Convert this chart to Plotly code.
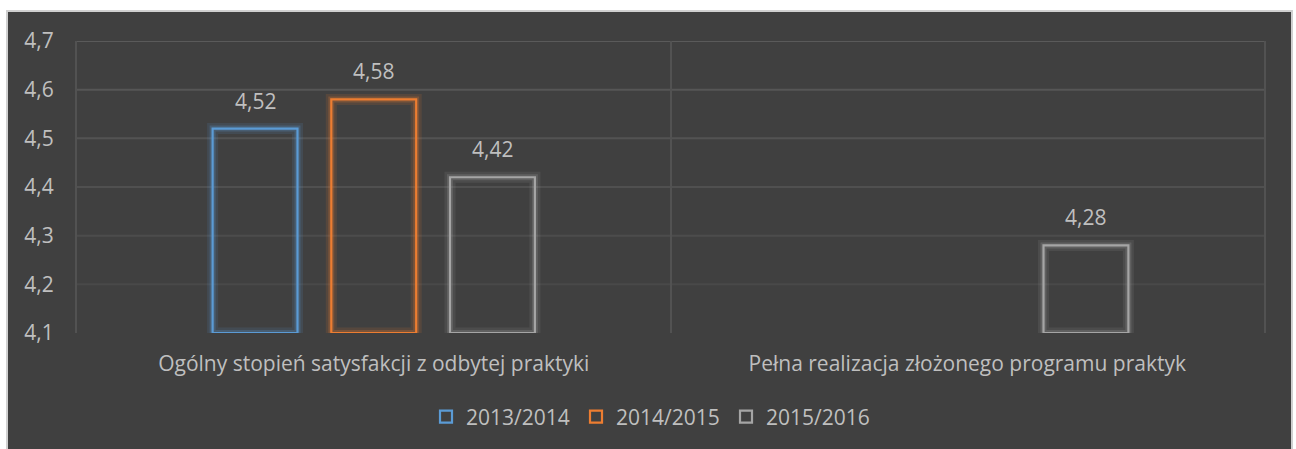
import plotly.graph_objects as go

# ---- data ----
categories = ["Ogólny stopień satysfakcji z odbytej praktyki",
              "Pełna realizacja złożonego programu praktyk"]
series_names = ["2013/2014", "2014/2015", "2015/2016"]
values_2013_2014 = [4.52, None]
values_2014_2015 = [4.58, None]
values_2015_2016 = [4.42, 4.28]
y_ticks = [4.1, 4.2, 4.3, 4.4, 4.5, 4.6, 4.7]
y_tick_labels = ["4,1", "4,2", "4,3", "4,4", "4,5", "4,6", "4,7"]

series_values = [values_2013_2014, values_2014_2015, values_2015_2016]
colors = ["#5B9BD5", "#ED7D31", "#A5A5A5"]
glow = ["rgba(91,155,213,{a})", "rgba(237,125,49,{a})", "rgba(165,165,165,{a})"]

Y_MIN, Y_MAX = 4.1, 4.7
W, H = 1296, 449
ML, MR, MT, MB = 77, 32, 41, 116
BARGAP = 0.4
FONT = "Open Sans"
TXT = "#BFBFBF"
FS = 21

fig = go.Figure()

for i, (name, vals) in enumerate(zip(series_names, series_values)):
    heights = [None if v is None else v - Y_MIN for v in vals]
    for width, alpha in [(11, 0.13), (6, 0.24)]:
        fig.add_trace(go.Bar(
            x=categories, y=heights, base=Y_MIN, offsetgroup=str(i),
            marker=dict(color="rgba(0,0,0,0)",
                        line=dict(color=glow[i].format(a=alpha), width=width)),
            showlegend=False, hoverinfo="skip"))
    fig.add_trace(go.Bar(
        x=categories, y=heights, base=Y_MIN, offsetgroup=str(i), name=name,
        marker=dict(color="rgba(0,0,0,0)", line=dict(color=colors[i], width=2.2)),
        hovertemplate="%{x}<br>" + name + ": %{customdata}<extra></extra>",
        customdata=vals))

# data labels
plot_w = W - ML - MR
cat_w = plot_w / len(categories)
slot = cat_w * (1 - BARGAP) / len(series_names)
annotations = []
for i, vals in enumerate(series_values):
    for cat, v in zip(categories, vals):
        if v is None:
            continue
        annotations.append(dict(
            x=cat, y=v, xref="x", yref="y", text=f"{v:.2f}".replace(".", ","),
            showarrow=False, yanchor="bottom", yshift=12,
            xshift=(i - (len(series_names) - 1) / 2) * slot,
            font=dict(family=FONT, size=FS, color=TXT)))

# chart area background with thin light frame (Excel-like chart area)
x0 = (7 - ML) / plot_w
x1 = (1292 - ML) / plot_w
plot_h = H - MT - MB
y1 = 1 + (MT - 11) / plot_h
y0 = -(MB + 5) / plot_h
shapes = [dict(type="rect", xref="paper", yref="paper", x0=x0, x1=x1, y0=y0, y1=y1,
               fillcolor="#404040", line=dict(color="#D0D0D0", width=2), layer="below")]
# horizontal gridlines, fading toward the bottom like the original
for t in y_ticks:
    if t == Y_MIN:
        continue
    frac = (t - Y_MIN) / (Y_MAX - Y_MIN)
    c = int(0x46 + (0x5A - 0x46) * frac)
    shapes.append(dict(type="line", xref="paper", yref="y", x0=0, x1=1, y0=t, y1=t,
                       line=dict(color=f"rgb({c},{c},{c})", width=2), layer="below"))

fig.update_layout(
    width=W, height=H,
    margin=dict(l=ML, r=MR, t=MT, b=MB),
    paper_bgcolor="white", plot_bgcolor="rgba(0,0,0,0)",
    barmode="group", bargap=BARGAP, bargroupgap=0.285,
    font=dict(family=FONT, size=FS, color=TXT),
    showlegend=True,
    legend=dict(orientation="h", xref="container", yref="container",
                x=651 / W, y=1 - 417 / H, xanchor="center", yanchor="middle",
                font=dict(family=FONT, size=FS, color=TXT),
                entrywidth=105, entrywidthmode="pixels",
                tracegroupgap=0, bgcolor="rgba(0,0,0,0)"),
    annotations=annotations, shapes=shapes,
)
fig.update_xaxes(type="category", tickson="boundaries", showgrid=True,
                 gridcolor="#525252", gridwidth=2, ticks="", ticklabelstandoff=16,
                 showline=False, zeroline=False,
                 tickfont=dict(family=FONT, size=FS, color=TXT))
fig.update_yaxes(range=[Y_MIN, Y_MAX], tickvals=y_ticks, ticktext=y_tick_labels,
                 showgrid=False, zeroline=False, showline=True, mirror=True,
                 linecolor="#525252", linewidth=2,
                 ticks="outside", ticklen=17, tickcolor="rgba(0,0,0,0)",
                 tickfont=dict(family=FONT, size=FS, color=TXT))

fig.write_html("out.html", config={"displayModeBar": False},
               post_script="document.body.style.margin='0';")
